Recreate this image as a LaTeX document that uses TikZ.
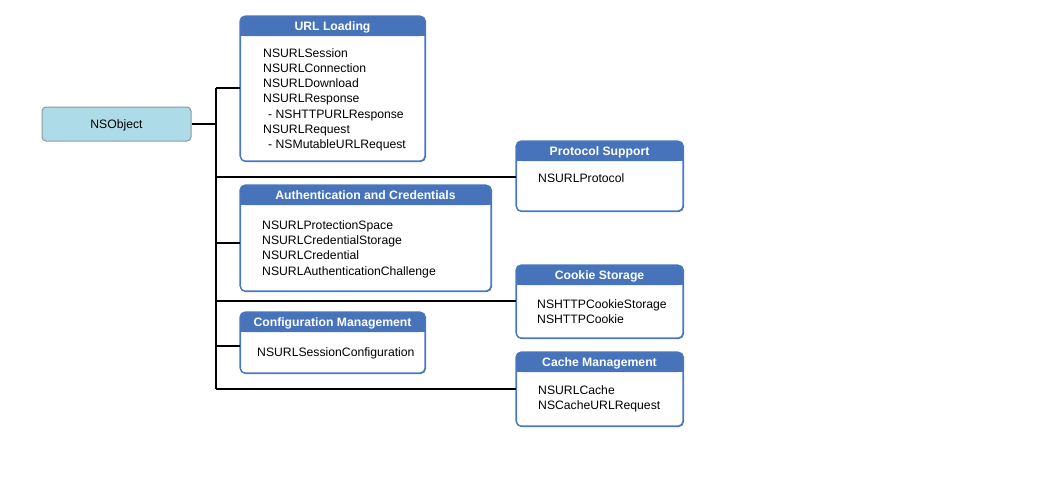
\documentclass[tikz,border=0pt]{standalone}
\usepackage{fontspec}
\setmainfont{Liberation Sans}
\definecolor{hdr}{HTML}{4673BA}
\definecolor{bdr}{HTML}{4A78C0}
\definecolor{objfill}{HTML}{AEDBE8}
\definecolor{objbdr}{HTML}{8C9A9E}
\tikzset{
  body/.style={draw=bdr, line width=1.1pt, fill=white, rounded corners=5pt, inner sep=0pt, anchor=north west},
  title/.style={text=white, font=\fontsize{12.2}{15.2}\selectfont\bfseries, inner sep=0pt, anchor=base},
  items/.style={font=\fontsize{12.2}{15.2}\selectfont, align=left, inner sep=0pt, anchor=base west},
  link/.style={draw=black, line width=1.2pt},
}
\newcommand{\panelbox}[6]{% name x1 y1 x2 y2 title
  \node[body, minimum width=#4-#2, minimum height=#5-#3] (#1) at (#2,#3) {};
  \fill[hdr, rounded corners=5pt] (#2,#3) rectangle (#4,#3+20);
  \fill[hdr] (#2,#3+10) rectangle (#4,#3+20);
  \draw[draw=bdr, line width=1.1pt, rounded corners=5pt] (#2,#3) rectangle (#4,#5);
  \node[title] (#1-t) at ({(#2+#4)/2},#3+14.6) {#6};
}
\begin{document}
\begin{tikzpicture}[x=1pt, y=-1pt]
\useasboundingbox (0,0) rectangle (1057,482);
% root
\node[draw=objbdr, line width=1pt, fill=objfill, rounded corners=4pt, minimum width=149pt, minimum height=34pt, inner sep=0pt, text height=8.8pt, text depth=0pt, font=\fontsize{12.2}{15}\selectfont] (obj) at (116.5,124) {NSObject};
% panels
\panelbox{url}{240}{16}{425}{161}{URL Loading}
\panelbox{proto}{516}{141}{683}{211}{Protocol Support}
\panelbox{auth}{240}{185}{491}{291}{Authentication and Credentials}
\panelbox{cookie}{516}{265}{683}{338}{Cookie Storage}
\panelbox{conf}{240}{312}{425}{373}{Configuration Management}
\panelbox{cache}{516}{352}{683}{426}{Cache Management}
% items (anchor = baseline of the last line)
\node[items] (urlitems) at (263,148.5) {NSURLSession\\NSURLConnection\\NSURLDownload\\NSURLResponse\\\hspace{5pt}- NSHTTPURLResponse\\NSURLRequest\\\hspace{5pt}- NSMutableURLRequest};
\node[items] (protoitems) at (538,182.5) {NSURLProtocol};
\node[items] (authitems) at (262,275) {NSURLProtectionSpace\\NSURLCredentialStorage\\NSURLCredential\\NSURLAuthenticationChallenge};
\node[items] (confitems) at (257,356.5) {NSURLSessionConfiguration};
\node[items] (cookieitems) at (537,323.7) {NSHTTPCookieStorage\\NSHTTPCookie};
\node[items] (cacheitems) at (538,409.2) {NSURLCache\\NSCacheURLRequest};
% connectors
\coordinate (bus-top) at (216,88);
\coordinate (bus-bot) at (216,389);
\draw[link] (obj.east) -- (216,124);
\draw[link] (bus-top) -- (bus-bot);
\draw[link] (bus-top) -- (url.west |- bus-top);
\draw[link] (216,177) -- (proto.west |- 0,177);
\draw[link] (216,243) -- (auth.west |- 0,243);
\draw[link] (216,301) -- (cookie.west |- 0,301);
\draw[link] (216,346) -- (conf.west |- 0,346);
\draw[link] (bus-bot) -- (cache.west |- bus-bot);
\end{tikzpicture}
\end{document}
